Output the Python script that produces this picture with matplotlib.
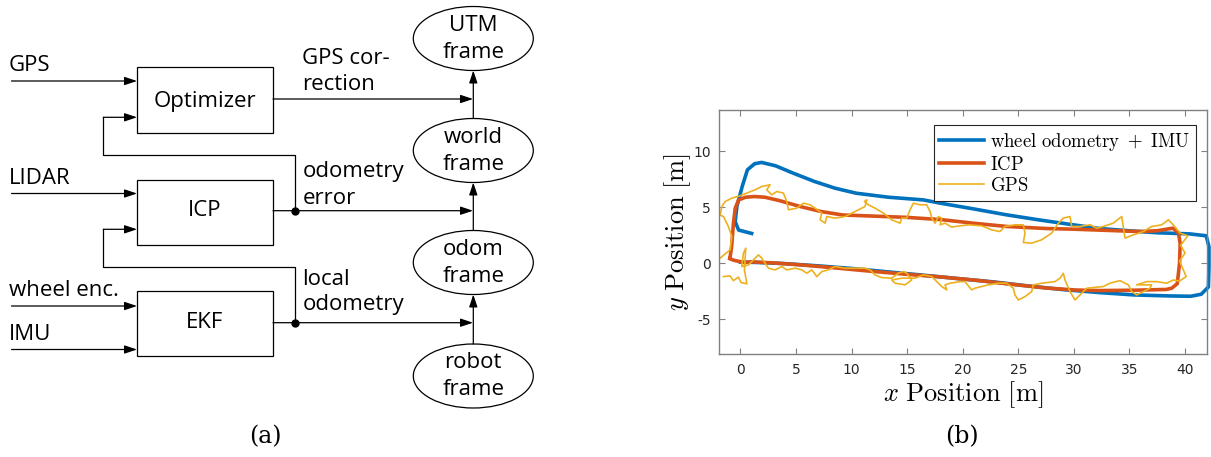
import matplotlib
matplotlib.use("Agg")
import matplotlib.pyplot as plt
from matplotlib.patches import Ellipse, Rectangle

plt.rcParams["mathtext.fontset"] = "cm"
plt.rcParams["axes.unicode_minus"] = False

# ---- (b) trajectoires --------------------------------------------------
wheel_x = [0.0, 1.6, 3.8, 7.0, 10.1, 13.3, 16.5, 19.6, 22.8, 25.9, 29.1, 32.3,
           35.4, 38.6, 40.5, 41.45, 42.1, 42.15, 42.15, 41.9, 40.4, 37.5, 35.9,
           32.3, 29.95, 27.0, 23.96, 21.0, 17.96, 16.46, 13.3, 10.4, 8.5, 6.65,
           4.75, 3.16, 1.9, 1.27, 0.63, 0.16, -0.32, -0.47, -0.16, 1.01]
wheel_y = [0.1, 0.06, -0.03, -0.24, -0.48, -0.78, -1.08, -1.38, -1.68, -2.04,
           -2.37, -2.63, -2.84, -2.93, -2.96, -2.78, -2.13, -0.33, 1.47, 2.45,
           2.62, 2.72, 2.83, 3.1, 3.43, 3.85, 4.32, 4.85, 5.37, 5.66, 5.9, 6.26,
           6.71, 7.31, 8.05, 8.71, 9.01, 8.89, 8.35, 6.86, 5.06, 3.71, 2.96, 2.66]

icp_x = [-0.95, -0.63, 0.32, 0.95, 2.85, 5.4, 8.5, 11.7, 14.9, 18.0, 21.2, 24.4,
         27.5, 30.1, 32.3, 35.4, 38.3, 38.8, 39.3, 39.5, 39.56, 39.4, 38.9, 37.5,
         35.9, 33.9, 30.0, 27.5, 24.0, 21.2, 18.0, 14.9, 11.7, 9.2, 7.3, 5.4,
         3.5, 2.2, 1.27, 0.47, -0.16, -0.47, -0.63, -0.79, -0.95]
icp_y = [0.42, 0.27, 0.06, 0.12, 0.03, -0.15, -0.42, -0.72, -0.99, -1.23, -1.53,
         -1.89, -2.22, -2.4, -2.45, -2.42, -2.35, -2.24, -1.83, -0.03, 1.77,
         2.72, 3.13, 2.9, 2.83, 2.9, 3.04, 3.1, 3.28, 3.55, 3.9, 4.1, 4.22,
         4.31, 4.61, 5.06, 5.6, 5.9, 5.96, 5.9, 5.66, 4.91, 3.56, 1.47, 0.42]

gps_x = [-1.53, -0.93, -0.63, -0.18, 0.06, 0.58, 0.36, 0.48, 0.27, 0.12, 0.72,
         1.17, 1.62, 1.92, 2.22, 2.52, 3.12, 3.72, 4.17, 4.92, 5.52, 5.97, 6.42,
         6.87, 7.32, 7.91, 8.52, 9.42, 10.31, 11.21, 11.66, 12.11, 12.71, 13.6,
         14.2, 14.66, 14.96, 15.41, 14.81, 13.91, 13.61, 14.51, 15.71, 16.46,
         17.21, 17.66, 18.11, 18.56, 18.41, 18.86, 19.76, 20.2, 20.8, 21.1,
         22.3, 23.2, 23.96, 24.55, 24.7, 25.0, 25.6, 26.2, 26.35, 27.1, 28.3,
         28.75, 29.05, 29.2, 29.65, 30.1, 30.55, 31.15, 32.64, 33.25, 34.15,
         34.9, 35.2, 35.65, 36.24, 36.84, 36.99, 35.65, 36.54, 37.45, 38.35,
         38.94, 39.5, 40.1, 39.8, 39.5, 40.0, 39.6, 40.25, 39.54, 38.94, 38.5,
         37.9, 37.0, 36.24, 35.34, 34.6, 34.44, 34.3, 33.54, 32.64, 32.05,
         31.45, 30.55, 29.8, 29.65, 29.05, 28.6, 28.0, 27.1, 26.2, 25.45, 25.6,
         25.45, 24.7, 23.8, 23.35, 22.6, 21.7, 20.5, 19.31, 19.01, 18.41,
         17.96, 18.11, 17.81, 17.51, 17.21, 17.06, 16.76, 16.16, 15.56, 15.26,
         14.96, 14.51, 14.36, 13.61, 12.86, 12.11, 11.51, 11.15, 11.37, 11.21,
         10.31, 9.42, 8.52, 7.77, 7.62, 7.17, 7.32, 6.72, 6.27, 5.67, 5.07,
         4.32, 4.17, 3.87, 3.27, 2.82, 2.37, 2.67, 1.92, 1.32, 0.58, -0.03,
         -0.77, -1.38, -1.67, -1.83, -1.53, -1.08, -0.77, -0.93, -1.83]
gps_y = [-1.2, -1.14, -1.56, -1.25, -1.73, -1.85, -0.6, 1.34, 0.9, -0.3, -0.15,
         0.3, 0.74, 0.45, 0.0, -0.45, -0.6, -0.3, -0.6, -0.45, -0.6, -0.9, -0.6,
         -1.2, -0.75, -0.6, -0.3, -0.45, -0.45, -0.45, -0.6, -1.05, -1.29,
         -1.34, -0.9, -0.75, -0.9, -1.5, -1.94, -1.79, -1.5, -1.34, -1.34,
         -1.05, -1.2, -1.65, -2.09, -2.39, -1.94, -1.79, -1.65, -1.65, -2.39,
         -2.24, -1.94, -1.79, -1.79, -2.24, -2.84, -3.29, -2.99, -2.54, -1.94,
         -1.79, -1.65, -1.34, -0.9, -1.5, -2.54, -3.29, -2.84, -2.24, -2.09,
         -1.79, -1.56, -1.94, -2.54, -2.84, -2.54, -2.24, -1.94, -1.94, -1.65,
         -1.65, -1.79, -1.5, -1.6, -1.2, -0.5, 0.2, 0.9, 1.6, 2.45, 2.69, 3.43,
         3.88, 3.43, 3.28, 2.83, 2.53, 2.24, 3.28, 4.17, 3.58, 3.28, 3.13,
         3.43, 3.28, 3.28, 4.17, 4.03, 3.58, 2.69, 2.09, 1.79, 1.85, 2.69,
         3.43, 3.43, 3.28, 2.83, 2.98, 3.34, 3.43, 3.28, 3.22, 3.58, 3.43,
         4.03, 4.17, 3.58, 4.03, 4.62, 5.22, 5.22, 5.37, 4.77, 4.03, 4.03,
         3.58, 3.88, 4.48, 4.92, 5.22, 5.51, 5.67, 5.07, 4.62, 4.17, 4.03,
         4.17, 3.58, 3.88, 4.48, 4.92, 5.22, 5.37, 4.92, 4.77, 5.51, 6.27,
         6.41, 6.11, 6.56, 7.01, 6.86, 6.56, 6.27, 6.03, 5.82, 5.51, 5.07,
         4.3, 4.17, 3.28, 2.38, 1.19, 0.45]

legend_labels = [r"$\mathrm{wheel\ odometry\ +\ IMU}$",
                 r"$\mathrm{ICP}$", r"$\mathrm{GPS}$"]
xticks = [0, 5, 10, 15, 20, 25, 30, 35, 40]
yticks = [-5, 0, 5, 10]

# ---- (a) schéma bloc (coordonnées en pixels de la figure) -------------
boxes = {"Optimizer": (137, 67, 273, 133),
         "ICP": (137, 180, 273, 245),
         "EKF": (137, 291, 273, 356)}
box_text_y = {"Optimizer": 107, "ICP": 216.5, "EKF": 328}
inputs = [("GPS", 71, 81), ("LIDAR", 184, 193.5),
          ("wheel enc.", 296.5, 306), ("IMU", 340, 349.5)]
frames = [("UTM", 38.5), ("world", 150.5), ("odom", 262.5), ("robot", 376)]
side_labels = [("GPS cor-", 63.5), ("rection", 90.5),
               ("odometry", 176.5), ("error", 204),
               ("local", 285), ("odometry", 310)]

FONT = "Open Sans"
FS = 16


def arrow(ax, p0, p1):
    ax.annotate("", xy=p1, xytext=p0,
                arrowprops=dict(arrowstyle="-|>,head_length=0.75,head_width=0.25",
                                lw=0.9, color="k", shrinkA=0, shrinkB=0))


def draw_diagram(ax):
    for name, (x0, y0, x1, y1) in boxes.items():
        ax.add_patch(Rectangle((x0, y0), x1 - x0, y1 - y0, fill=False, lw=0.9, ec="k"))
        ax.text((x0 + x1) / 2, box_text_y[name], name, ha="center", va="baseline",
                family=FONT, fontsize=FS)
    for lab, ty, ay in inputs:
        ax.text(9, ty, lab, ha="left", va="baseline", family=FONT, fontsize=FS)
        arrow(ax, (11.5, ay), (137, ay))
    # boucles de retour
    for y_out, y_loop, y_in in [(210.7, 155, 117.3), (322.7, 267.3, 229.3)]:
        ax.plot([294.7, 294.7, 103.3, 103.3], [y_out, y_loop, y_loop, y_in],
                color="k", lw=0.9)
        arrow(ax, (103.3, y_in), (137, y_in))
        ax.plot([294.7], [y_out], "o", color="k", ms=5)
    for y in [99, 210.7, 322.7]:
        arrow(ax, (273, y), (473, y))
    for lab, y in side_labels:
        ax.text(302.5, y, lab, ha="left", va="baseline", family=FONT, fontsize=FS)
    cx, w, h = 473.3, 120, 64
    for i, (lab, cy) in enumerate(frames):
        ax.add_patch(Ellipse((cx, cy), w, h, fill=False, lw=0.9, ec="k"))
        ax.text(cx, cy - 7.5, lab, ha="center", va="baseline", family=FONT, fontsize=FS)
        ax.text(cx, cy + 19, "frame", ha="center", va="baseline", family=FONT, fontsize=FS)
        if i > 0:
            arrow(ax, (cx, cy - h / 2), (cx, frames[i - 1][1] + h / 2))


fig = plt.figure(figsize=(12.11, 4.57), dpi=100)

ax_d = fig.add_axes([0, 0, 1, 1])
ax_d.set_xlim(0, 1211)
ax_d.set_ylim(457, 0)
ax_d.axis("off")
draw_diagram(ax_d)
ax_d.text(265.7, 437, "(a)", ha="center", va="center", family="DejaVu Serif", fontsize=17)
ax_d.text(962, 437, "(b)", ha="center", va="center", family="DejaVu Serif", fontsize=17)

# ---- (b) ---------------------------------------------------------------
ax = fig.add_axes([719.3 / 1211, (457 - 354.3) / 457, 488 / 1211, 244.3 / 457])
ax.plot(wheel_x, wheel_y, color="#0072BD", lw=2.6, label=legend_labels[0], clip_on=False)
ax.plot(icp_x, icp_y, color="#D95319", lw=2.6, label=legend_labels[1])
ax.plot(gps_x, gps_y, color="#EDB120", lw=1.2, label=legend_labels[2])
ax.set_xlim(-1.9, 42.0)
ax.set_ylim(-8.15, 13.7)
ax.set_xticks(xticks)
ax.set_yticks(yticks)
ax.tick_params(direction="in", top=True, right=True, length=4, width=0.8,
               color="#808080", labelcolor="#262626", labelsize=10, pad=6)
for s in ax.spines.values():
    s.set_color("#808080")
    s.set_linewidth(1.0)
ax.set_xlabel(r"$x\ \mathrm{Position}\ [\mathrm{m}]$", fontsize=19, labelpad=2)
ax.set_ylabel(r"$y\ \mathrm{Position}\ [\mathrm{m}]$", fontsize=19, labelpad=0)
leg = ax.legend(loc="upper right", bbox_to_anchor=(0.977, 0.939), borderaxespad=0,
                fancybox=False, edgecolor="#262626", framealpha=1, fontsize=13.5,
                handlelength=2.4, handletextpad=0.3, labelspacing=0.12, borderpad=0.3)
leg.get_frame().set_linewidth(0.8)

fig.savefig("out.png", dpi=100)
